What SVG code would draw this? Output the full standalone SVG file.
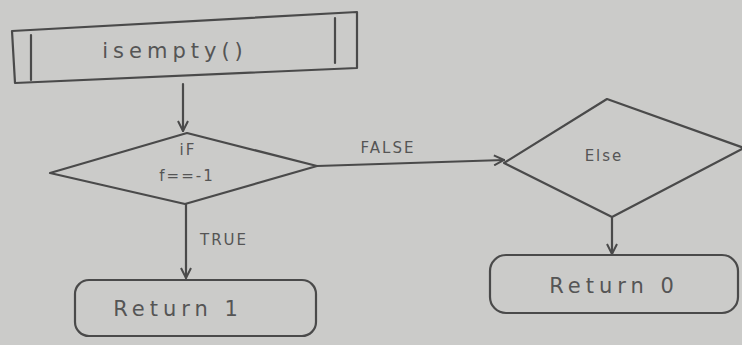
<svg xmlns="http://www.w3.org/2000/svg" width="742" height="345" viewBox="0 0 742 345">
<defs>
<style>
.bg{fill:#cbcbc9}
.s{fill:none;stroke:#4a4a4a;stroke-width:2.2;stroke-linejoin:round;stroke-linecap:round}
.t{font-family:"DejaVu Sans","Liberation Sans",sans-serif;fill:#555;font-size:21px;text-anchor:middle;letter-spacing:5px}
.l{font-family:"DejaVu Sans","Liberation Sans",sans-serif;fill:#555;font-size:15px;text-anchor:middle;letter-spacing:2px}
</style>
<marker id="ah" viewBox="0 0 12 12" refX="11" refY="6" markerWidth="12" markerHeight="12" markerUnits="userSpaceOnUse" orient="auto">
<path d="M1,1 L11,6 L1,11" fill="none" stroke="#4a4a4a" stroke-width="2"/>
</marker>
</defs>
<rect class="bg" x="0" y="0" width="742" height="345"/>
<g id="connectors">
<line class="s" x1="183" y1="84" x2="183" y2="131" marker-end="url(#ah)"/>
<line class="s" x1="317" y1="166" x2="504" y2="160" marker-end="url(#ah)"/>
<text class="l" x="388" y="153">FALSE</text>
<line class="s" x1="186" y1="204" x2="186" y2="278" marker-end="url(#ah)"/>
<text class="l" x="224" y="245">TRUE</text>
<line class="s" x1="612" y1="218" x2="612" y2="254" marker-end="url(#ah)"/>
</g>
<g id="isempty">
<polygon class="s" points="12,31 357,12 357,68 15,83"/>
<line class="s" x1="31" y1="35" x2="31" y2="80"/>
<line class="s" x1="335" y1="18" x2="335" y2="63"/>
<text class="t" x="175" y="58">isempty()</text>
</g>
<g id="if">
<polygon class="s" points="50,173 187,133 317,166 185,204"/>
<text class="l" x="188" y="155">iF</text>
<text class="l" x="187" y="181">f==-1</text>
</g>
<g id="else">
<polygon class="s" points="504,163 607,99 744,148 612,217"/>
<text class="l" x="604" y="161">Else</text>
</g>
<g id="return1">
<rect class="s" x="75" y="280" width="241" height="56" rx="14"/>
<text class="t" x="178" y="316">Return 1</text>
</g>
<g id="return0">
<rect class="s" x="490" y="255" width="248" height="58" rx="16"/>
<text class="t" x="614" y="293">Return 0</text>
</g>
</svg>
